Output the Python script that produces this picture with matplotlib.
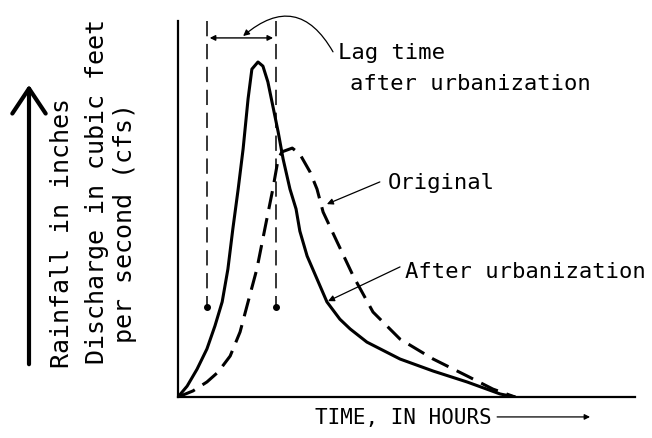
import matplotlib
matplotlib.use("Agg")
import matplotlib.pyplot as plt

# hydrograph (time in hours, discharge in arbitrary cfs units)
t_after = [0, 0.24, 0.50, 0.76, 0.97, 1.16, 1.31, 1.44, 1.58, 1.71, 1.84, 1.94, 2.10, 2.23,
           2.36, 2.49, 2.63, 2.76, 2.94, 3.10, 3.20, 3.39, 3.91, 4.25, 4.52, 4.96, 5.83,
           6.70, 7.59, 8.46, 8.85]
q_after = [0, 0.29, 0.74, 1.28, 1.89, 2.53, 3.40, 4.47, 5.53, 6.60, 7.93, 8.72, 8.91, 8.80,
           8.38, 7.74, 7.05, 6.33, 5.53, 5.00, 4.41, 3.75, 2.53, 2.07, 1.81, 1.46, 1.01,
           0.69, 0.40, 0.08, 0]

t_orig = [0, 0.39, 0.76, 1.05, 1.37, 1.63, 1.84, 2.07, 2.28, 2.49, 2.63, 2.73, 3.00, 3.20,
          3.47, 3.65, 3.81, 4.18, 4.60, 5.12, 5.83, 6.70, 7.59, 8.27, 8.85]
q_orig = [0, 0.16, 0.40, 0.66, 1.09, 1.73, 2.53, 3.40, 4.47, 5.53, 6.33, 6.52, 6.62, 6.46,
          5.98, 5.53, 4.92, 4.12, 3.22, 2.26, 1.54, 1.01, 0.56, 0.21, 0]

lag_start = 0.76
lag_end = 2.57
lag_bottom = 2.39

ylabel_lines = ["Rainfall in inches", "Discharge in cubic feet", "per second (cfs)"]

mono = "DejaVu Sans Mono"

fig = plt.figure(figsize=(6.52, 4.39), dpi=100)
ax = fig.add_axes([178 / 652, 41 / 439, 457 / 652, 376 / 439])
ax.set_xlim(0, 12)
ax.set_ylim(0, 10)

# curves
ax.plot(t_after, q_after, color="black", lw=2.2, solid_capstyle="round",
        solid_joinstyle="round")
ax.plot(t_orig, q_orig, color="black", lw=2.2, linestyle=(0, (6, 3)))

# lag time markers
for tx in (lag_start, lag_end):
    ax.plot([tx, tx], [10, lag_bottom], color="black", lw=1.1, linestyle=(0, (10, 5)))
    ax.plot(tx, lag_bottom, "o", color="black", ms=4)
ax.annotate("", xy=(lag_start, 9.55), xytext=(lag_end, 9.55),
            arrowprops=dict(arrowstyle="<|-|>", color="black", lw=1.0, mutation_scale=8))

# leader from the lag time label
ax.annotate("", xy=(1.71, 9.6), xytext=(4.07, 9.18),
            arrowprops=dict(arrowstyle="-|>", color="black", lw=0.9, mutation_scale=9,
                            connectionstyle="arc3,rad=0.6", shrinkA=0, shrinkB=0))
ax.text(4.20, 9.18, "Lag time", fontsize=16, family=mono, va="center", ha="left")
ax.text(4.52, 8.35, "after urbanization", fontsize=16, family=mono, va="center", ha="left")

# curve labels
ax.annotate("", xy=(3.91, 5.13), xytext=(5.30, 5.72),
            arrowprops=dict(arrowstyle="-|>", color="black", lw=0.9, mutation_scale=9,
                            shrinkA=0, shrinkB=0))
ax.text(5.51, 5.72, "Original", fontsize=16, family=mono, va="center", ha="left")
ax.annotate("", xy=(3.94, 2.55), xytext=(5.83, 3.46),
            arrowprops=dict(arrowstyle="-|>", color="black", lw=0.9, mutation_scale=9,
                            shrinkA=0, shrinkB=0))
ax.text(5.96, 3.35, "After urbanization", fontsize=16, family=mono, va="center", ha="left")

# x label
ax.text(3.60, -0.53, "TIME, IN HOURS", fontsize=15, family=mono, va="center", ha="left")
ax.annotate("", xy=(10.82, -0.53), xytext=(8.38, -0.53), annotation_clip=False,
            arrowprops=dict(arrowstyle="-|>", color="black", lw=0.9, mutation_scale=8,
                            shrinkA=0, shrinkB=0))

# axes look
for s in ("top", "right"):
    ax.spines[s].set_visible(False)
for s in ("left", "bottom"):
    ax.spines[s].set_linewidth(1.6)
ax.set_xticks([])
ax.set_yticks([])

# y label lines and big arrow
ylab_pos = [(62, 233), (97, 191), (125, 223)]
for line, (px, py) in zip(ylabel_lines, ylab_pos):
    fig.text(px / 652, 1 - py / 439, line, rotation=90, fontsize=18, family=mono,
             ha="center", va="center")
fig.add_artist(matplotlib.patches.FancyArrowPatch(
    (29 / 652, 1 - 368 / 439), (29 / 652, 1 - 83 / 439), transform=fig.transFigure,
    arrowstyle="->,head_length=0.9,head_width=0.6", lw=3, color="black",
    mutation_scale=20))

fig.savefig("out.png", dpi=100)
